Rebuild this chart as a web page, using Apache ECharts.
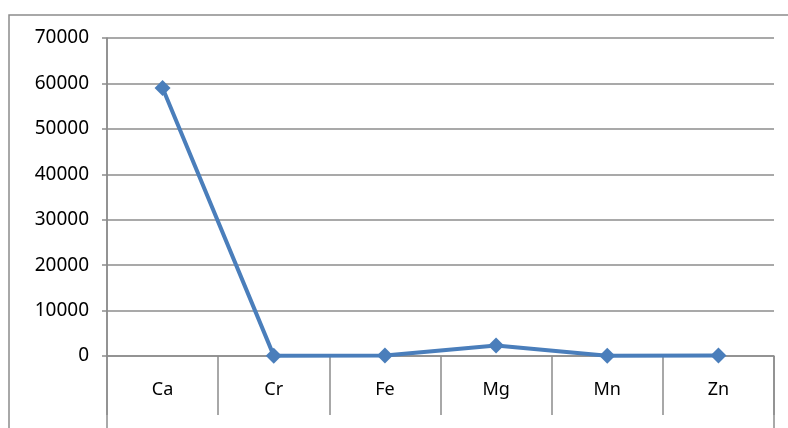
<!DOCTYPE html>
<html>
<head>
<meta charset="utf-8">
<script src="https://cdn.jsdelivr.net/npm/echarts@6/dist/echarts.min.js"></script>
<style>
  html, body { margin: 0; padding: 0; background: #fff; }
  #chart { width: 788px; height: 428px; }
</style>
</head>
<body>
<div id="chart"></div>
<script>
// Element names along the category axis
const elements = ['Ca', 'Cr', 'Fe', 'Mg', 'Mn', 'Zn'];
// Measured concentrations for each element
const concentrations = [59000, 80, 100, 2300, 80, 100];
// Value-axis range and step
const yMin = 0;
const yMax = 70000;
const yStep = 10000;

const gridColor = '#8c8c8c';
const lineColor = '#4a7ebb';
const fontFamily = '"Noto Sans", "Open Sans", sans-serif';

const chart = echarts.init(document.getElementById('chart'));

chart.setOption({
  animation: false,
  backgroundColor: '#ffffff',
  grid: { left: 107, right: 14, top: 38, bottom: 72, containLabel: false },
  xAxis: {
    type: 'category',
    data: elements,
    boundaryGap: true,
    axisLine: { show: true, lineStyle: { color: gridColor, width: 1.5 } },
    axisTick: { show: true, length: 59, lineStyle: { color: gridColor, width: 1.5 } },
    axisLabel: { color: '#000', fontSize: 18, fontFamily: fontFamily, margin: 25 }
  },
  yAxis: {
    type: 'value',
    min: yMin,
    max: yMax,
    interval: yStep,
    axisLine: { show: true, lineStyle: { color: gridColor, width: 1.5 } },
    axisTick: { show: true, length: 5, lineStyle: { color: gridColor, width: 1.5 } },
    splitLine: { show: true, lineStyle: { color: gridColor, width: 1.5 } },
    axisLabel: { color: '#000', fontSize: 19, fontFamily: fontFamily, margin: 18,
      formatter: v => String(v) }
  },
  series: [{
    type: 'line',
    data: concentrations,
    symbol: 'diamond',
    symbolSize: 16,
    lineStyle: { color: lineColor, width: 4 },
    itemStyle: { color: lineColor },
    z: 5
  }]
});

// Chart frame and the vertical edges of the category band, positioned from the axes
function drawFrame() {
  const axis = chart.getModel().getComponent('xAxis', 0).axis;
  const bw = axis.getBandWidth();
  const x0 = chart.convertToPixel({ xAxisIndex: 0 }, 0) - bw / 2;
  const xEnd = x0 + bw * elements.length;
  const yTop = chart.convertToPixel({ yAxisIndex: 0 }, yMax);
  const yZero = chart.convertToPixel({ yAxisIndex: 0 }, yMin);
  chart.setOption({
    graphic: [
      { type: 'rect', shape: { x: 9, y: 15, width: 900, height: 600 },
        style: { fill: 'none', stroke: gridColor, lineWidth: 1.5 }, silent: true },
      { type: 'line', shape: { x1: x0, y1: yTop, x2: x0, y2: 440 },
        style: { stroke: gridColor, lineWidth: 1.5 }, silent: true },
      { type: 'line', shape: { x1: xEnd, y1: yZero, x2: xEnd, y2: 440 },
        style: { stroke: gridColor, lineWidth: 1.5 }, silent: true }
    ]
  });
}
drawFrame();
</script>
</body>
</html>
